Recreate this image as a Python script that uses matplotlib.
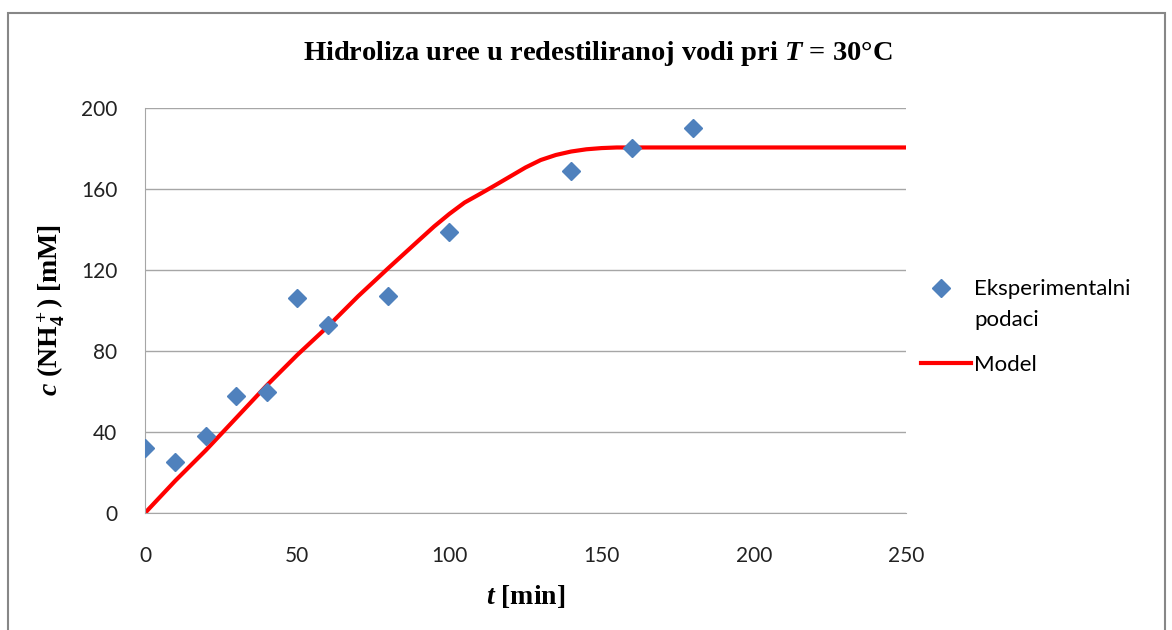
import matplotlib
matplotlib.use("Agg")
import matplotlib.pyplot as plt
from matplotlib.patches import Rectangle
from matplotlib.legend_handler import HandlerLine2D

# experimental data
t_exp = [0, 10, 20, 30, 40, 50, 60, 80, 100, 140, 160, 180]
c_exp = [32, 25, 38, 58, 60, 106, 93, 107, 139, 169, 180, 190]

# model curve
t_mod = [0, 10, 20, 30, 40, 50, 60, 70, 80, 90, 95, 100, 105, 110, 115, 120,
         125, 130, 135, 140, 145, 150, 155, 160, 250]
c_mod = [0, 16, 31, 47, 63, 78, 92, 107, 121, 134.7, 141.5, 147.7, 153.3, 157.5,
         161.8, 166.2, 170.6, 174.3, 176.8, 178.5, 179.6, 180.2, 180.5, 180.5, 180.5]


class HandlerFirstLine(HandlerLine2D):
    # put the marker next to the first line of a two-line label
    def create_artists(self, legend, orig_handle, xdescent, ydescent,
                       width, height, fontsize, trans):
        return super().create_artists(legend, orig_handle, xdescent + 3,
                                      ydescent - 24, width, height,
                                      fontsize, trans)


plt.rcParams['mathtext.fontset'] = 'custom'
plt.rcParams['mathtext.rm'] = 'Liberation Serif:bold'
plt.rcParams['mathtext.bf'] = 'Liberation Serif:bold'
plt.rcParams['mathtext.it'] = 'Liberation Serif:italic:bold'

fig = plt.figure(figsize=(11.72, 6.3), dpi=100)
ax = fig.add_axes([0.1237, 0.1857, 0.6493, 0.6429])

# outer chart border
fig.patches.append(Rectangle((8 / 1172, -0.05), 1157 / 1172, 1.05 - 13 / 630,
                             transform=fig.transFigure, fill=False,
                             edgecolor='#878787', linewidth=1.5))

pts, = ax.plot(t_exp, c_exp, linestyle='none', marker='D', markersize=9,
               color='#4F81BD', label='Eksperimentalni\npodaci', zorder=3)
ax.plot(t_mod, c_mod, color='#FF0000', linewidth=3, label='Model', zorder=2)

ax.set_xlim(0, 250)
ax.set_ylim(0, 200)
ax.set_xticks([0, 50, 100, 150, 200, 250])
ax.set_yticks([0, 40, 80, 120, 160, 200])
ax.yaxis.grid(True, color='#A6A6A6', linewidth=1)
ax.set_axisbelow(True)
for s in ['top', 'right']:
    ax.spines[s].set_visible(False)
for s in ['left', 'bottom']:
    ax.spines[s].set_color('#A6A6A6')
ax.tick_params(length=0, labelsize=15)
ax.tick_params(axis='x', pad=24)
ax.tick_params(axis='y', pad=20)
for lbl in ax.get_xticklabels() + ax.get_yticklabels():
    lbl.set_fontfamily('Lato')
    lbl.set_color('#222222')

fig.text(0.51, 1 - 53 / 630, r'Hidroliza uree u redestiliranoj vodi pri $\it{T}$ = 30°C',
         fontfamily='Liberation Serif', fontweight='bold', fontsize=20.5,
         ha='center', va='center')
ax.set_xlabel(r'$\it{t}$ [min]', fontfamily='Liberation Serif',
              fontweight='bold', fontsize=20, labelpad=12)
ax.set_ylabel(r'$\it{c}$ (NH$_\mathrm{4}^+$) [mM]', fontfamily='Liberation Serif',
              fontweight='bold', fontsize=20, labelpad=10)

leg = ax.legend(loc='center left', bbox_to_anchor=(0.993, 0.46), frameon=False,
                prop={'family': 'Lato', 'size': 16}, handlelength=2.25,
                labelspacing=1.1, handletextpad=0.15,
                handler_map={pts: HandlerFirstLine()})
for txt in leg.get_texts():
    txt.set_linespacing(1.7)

fig.savefig('out.png', dpi=100)
